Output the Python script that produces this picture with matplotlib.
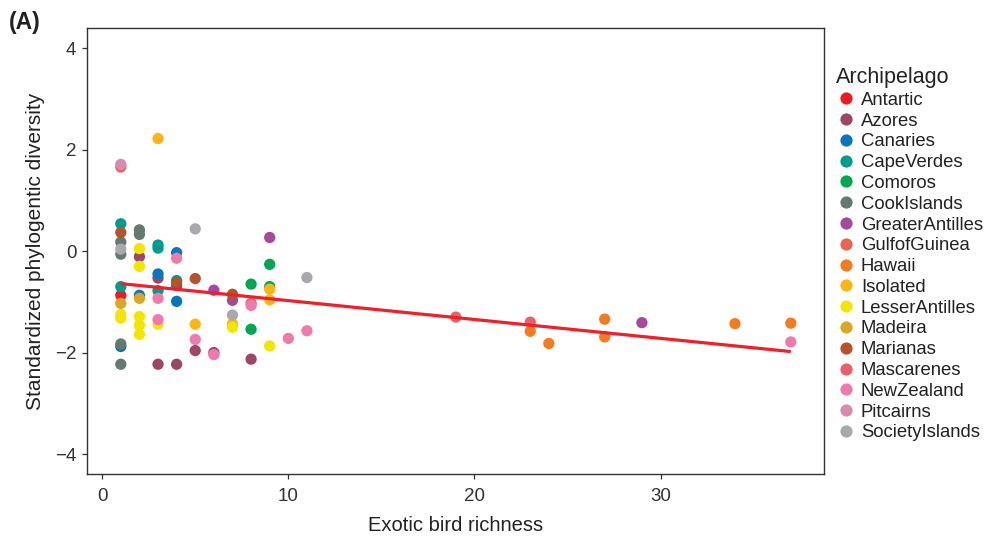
import matplotlib
matplotlib.use("Agg")
import matplotlib.pyplot as plt
from matplotlib.lines import Line2D

plt.rcParams['font.family'] = ['Liberation Sans', 'DejaVu Sans']

archipelagos = ["Antartic", "Azores", "Canaries", "CapeVerdes", "Comoros", "CookIslands",
                "GreaterAntilles", "GulfofGuinea", "Hawaii", "Isolated", "LesserAntilles",
                "Madeira", "Marianas", "Mascarenes", "NewZealand", "Pitcairns", "SocietyIslands"]
colors = ["#ED1C24", "#9E4568", "#0A74BC", "#009C8C", "#00A650", "#647A70",
          "#A34A9E", "#E8654F", "#F47B20", "#FDB515", "#F2E500",
          "#DBA526", "#B5532A", "#E8616A", "#F07AAE", "#D98BAD", "#A7A9AC"]

antartic_x = [1]
antartic_y = [-0.87]
azores_x = [2, 3, 3, 4, 5, 6, 8]
azores_y = [-0.11, -0.53, -2.23, -2.23, -1.96, -2.00, -2.13]
canaries_x = [1, 2, 3, 4, 4, 4]
canaries_y = [-1.88, -0.87, -0.45, -0.03, -0.68, -0.99]
capeverdes_x = [1, 1, 3, 3, 3, 4]
capeverdes_y = [0.54, -0.70, 0.12, 0.06, -0.78, -0.58]
comoros_x = [8, 8, 9, 9]
comoros_y = [-0.65, -1.54, -0.26, -0.70]
cookislands_x = [1, 1, 1, 1, 2, 2]
cookislands_y = [0.18, -0.06, -1.83, -2.23, 0.42, 0.33]
greaterantilles_x = [6, 7, 9, 29]
greaterantilles_y = [-0.77, -0.97, 0.27, -1.41]
gulfofguinea_x = []
gulfofguinea_y = []
hawaii_x = [23, 24, 27, 27, 34, 37]
hawaii_y = [-1.58, -1.82, -1.34, -1.69, -1.43, -1.42]
isolated_x = [3, 5, 7, 9, 9]
isolated_y = [2.22, -1.44, -1.44, -0.75, -0.96]
lesserantilles_x = [1, 1, 2, 2, 2, 2, 2, 3, 7, 9]
lesserantilles_y = [-1.25, -1.32, 0.05, -0.30, -1.29, -1.46, -1.64, -1.44, -1.50, -1.87]
madeira_x = [1, 2]
madeira_y = [-1.03, -0.93]
marianas_x = [1, 4, 5, 7]
marianas_y = [0.37, -0.62, -0.54, -0.85]
mascarenes_x = [1, 8, 19, 23]
mascarenes_y = [1.66, -1.03, -1.30, -1.40]
newzealand_x = [3, 3, 4, 5, 6, 8, 10, 11, 37]
newzealand_y = [-0.93, -1.35, -0.14, -1.74, -2.04, -1.07, -1.72, -1.57, -1.79]
pitcairns_x = [1]
pitcairns_y = [1.71]
societyislands_x = [1, 5, 7, 11]
societyislands_y = [0.04, 0.44, -1.26, -0.52]

series_x = [antartic_x, azores_x, canaries_x, capeverdes_x, comoros_x, cookislands_x,
            greaterantilles_x, gulfofguinea_x, hawaii_x, isolated_x, lesserantilles_x,
            madeira_x, marianas_x, mascarenes_x, newzealand_x, pitcairns_x, societyislands_x]
series_y = [antartic_y, azores_y, canaries_y, capeverdes_y, comoros_y, cookislands_y,
            greaterantilles_y, gulfofguinea_y, hawaii_y, isolated_y, lesserantilles_y,
            madeira_y, marianas_y, mascarenes_y, newzealand_y, pitcairns_y, societyislands_y]

fit_x = [1, 37]
fit_y = [-0.64, -1.98]

xticks = [0, 10, 20, 30]
yticks = [-4, -2, 0, 2, 4]

fig = plt.figure(figsize=(9.89, 5.41), dpi=100)
ax = fig.add_axes([87.3 / 989, (541 - 474.3) / 541, (824.3 - 87.3) / 989, (474.3 - 28) / 541])

for name, c, xs, ys in zip(archipelagos, colors, series_x, series_y):
    if xs:
        ax.scatter(xs, ys, s=66, color=c, edgecolors='none', zorder=2)

ax.plot(fit_x, fit_y, color="#EE2028", lw=2.3, zorder=3, solid_capstyle='butt')

ax.set_xlim(-0.8, 38.8)
ax.set_ylim(-4.4, 4.4)
ax.set_xticks(xticks)
ax.set_yticks(yticks)
ax.set_yticklabels([("\u2212" + str(abs(t))) if t < 0 else str(t) for t in yticks])
for sp in ax.spines.values():
    sp.set_color("#333333")
    sp.set_linewidth(1.0)
ax.tick_params(direction='out', length=3.6, width=0.9, color="#333333", labelsize=13.5,
               labelcolor="#333333")
ax.tick_params(axis='x', pad=6)
ax.tick_params(axis='y', pad=4.3)
ax.set_xlabel("Exotic bird richness", fontsize=14.5, color="#222222", labelpad=8)
ax.set_ylabel("Standardized phylogentic diversity", fontsize=15, color="#222222", labelpad=7)

fig.text(0.009, 1 - 11 / 541, "(A)", fontsize=16.5, fontweight='bold', va='top', ha='left', color="#222222")

handles = [Line2D([0], [0], marker='o', linestyle='none', markersize=8.8,
                  markerfacecolor=c, markeredgecolor='none') for c in colors]
leg = fig.legend(handles, archipelagos, loc='upper left', bbox_to_anchor=(836 / 989, 1 - 67 / 541),
                 frameon=False, title="Archipelago", fontsize=13.3, title_fontsize=15.5,
                 alignment='left', handletextpad=0.25, labelspacing=0.205, handlelength=1.1,
                 borderaxespad=0, borderpad=0)
for t in leg.get_texts():
    t.set_color("#222222")
leg.get_title().set_color("#222222")

fig.savefig("out.png", dpi=100)
